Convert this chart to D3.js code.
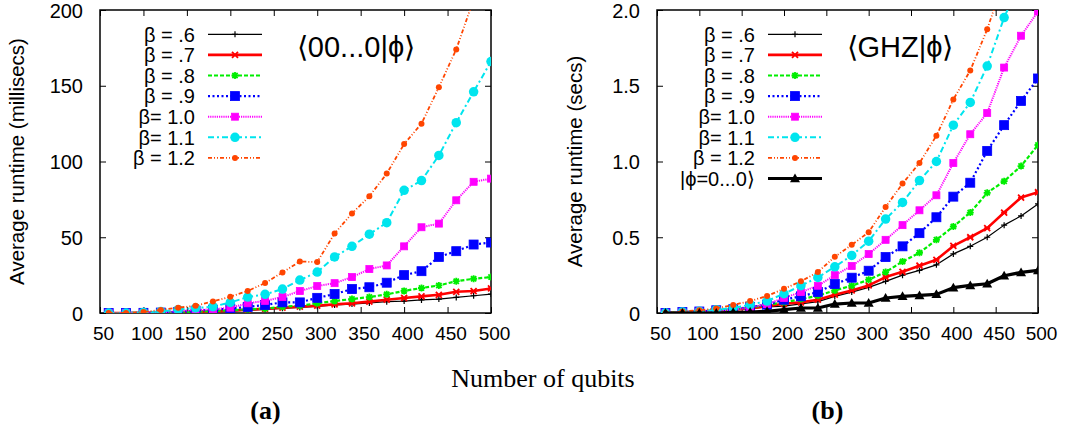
<!DOCTYPE html>
<html><head><meta charset="utf-8">
<script src="https://cdn.jsdelivr.net/npm/d3@7"></script>
<style>
html,body{margin:0;padding:0;background:#fff;}
svg{display:block;}
</style></head>
<body>
<svg id="chart" width="1076" height="433"></svg>
<script>
// ---------- data ----------
const qubits = [60,80,100,120,140,160,180,200,220,240,260,280,300,320,340,360,380,400,420,440,460,480,500];
const xTicks = [50,100,150,200,250,300,350,400,450,500];
const yTicksA = [0,50,100,150,200];
const yTickLabelsA = ["0","50","100","150","200"];
const yTicksB = [0,0.5,1.0,1.5,2.0];
const yTickLabelsB = ["0","0.5","1.0","1.5","2.0"];
const seriesNames = ["β = .6","β = .7","β = .8","β = .9","β= 1.0","β= 1.1","β = 1.2"];
const ghzName = "|ϕ=0...0⟩";

// (a) <00...0|phi>, milliseconds
const a_b06 = [0,0,0.1,0.2,0.4,0.7,0.9,1.3,1.8,2.4,3.1,3.7,4.4,5.3,5.9,6.6,7.5,7.9,8.6,9.2,10.3,11.4,12.5];
const a_b07 = [0,0,0.1,0.2,0.4,0.9,1.1,1.5,2.2,2.8,3.5,4.2,4.8,5.7,6.4,7.5,8.8,9.9,11,12,14,14.5,16.2];
const a_b08 = [0,0,0.1,0.3,0.5,0.9,1.3,1.8,2.4,2.9,4.2,4.8,6.4,7.9,9.2,10.5,12.3,14.6,16.5,18.2,21,22.6,23.7];
const a_b09 = [0,0,0.1,0.3,0.7,1.5,2.2,2.9,4,5.3,7,7,10,12.5,15.8,17,20,25,27.6,37,40.8,45.2,46.5];
const a_b10 = [0,0,0.1,0.4,1.3,2,2.4,3.5,6.4,8,10.5,14.5,17.8,19.7,23.7,29,31.4,44,56.6,59,74.4,86.6,88.7];
const a_b11 = [0,0,0.4,1,2.2,3.3,4.2,7,10.5,12.3,15.8,21.7,27,37,44,52,59.6,81,87.4,104,125.6,146,166];
const a_b12 = [0,0,0.6,2,3.5,4.8,7.6,10.8,14.5,19.8,26.8,34,33.6,52.5,65.7,77,92,111.5,125,149,174,207,240];

// (b) <GHZ|phi>, seconds
const b_b06 = [0,0.005,0.008,0.012,0.02,0.03,0.04,0.045,0.06,0.075,0.11,0.138,0.169,0.209,0.25,0.281,0.318,0.39,0.44,0.50,0.58,0.641,0.72];
const b_b07 = [0,0.005,0.01,0.015,0.022,0.03,0.044,0.061,0.07,0.088,0.121,0.149,0.182,0.237,0.272,0.312,0.351,0.443,0.50,0.56,0.663,0.762,0.797];
const b_b08 = [0,0.006,0.01,0.016,0.025,0.035,0.055,0.07,0.092,0.114,0.149,0.18,0.22,0.27,0.34,0.397,0.483,0.571,0.663,0.793,0.87,0.97,1.109];
const b_b09 = [0,0.006,0.01,0.018,0.025,0.04,0.055,0.088,0.11,0.138,0.191,0.233,0.279,0.369,0.44,0.527,0.632,0.768,0.86,1.07,1.24,1.40,1.548];
const b_b10 = [0,0.005,0.01,0.015,0.022,0.037,0.059,0.099,0.138,0.18,0.25,0.31,0.389,0.483,0.58,0.678,0.777,0.99,1.18,1.32,1.62,1.83,1.99];
const b_b11 = [0,0.007,0.011,0.022,0.033,0.055,0.079,0.127,0.18,0.235,0.305,0.38,0.474,0.62,0.73,0.874,1.0,1.24,1.39,1.63,1.95,2.2,2.45];
const b_b12 = [0,0.01,0.018,0.03,0.053,0.079,0.112,0.16,0.209,0.27,0.371,0.45,0.533,0.70,0.854,0.99,1.17,1.41,1.60,1.873,2.2,2.55,2.9];
const b_ghz0 = [0,0,0,0,0.005,0.006,0.011,0.022,0.033,0.033,0.059,0.066,0.066,0.099,0.11,0.116,0.123,0.167,0.182,0.193,0.246,0.268,0.281];

// ---------- styles ----------
const styles = [
  {color:"#000000", width:1.2, dash:null, marker:"plus", size:6},
  {color:"#ff0000", width:2.6, dash:null, marker:"cross", size:6},
  {color:"#00ee00", width:2.2, dash:"4,2", marker:"star", size:7},
  {color:"#0000ff", width:2.2, dash:"2,2.5", marker:"square", size:9},
  {color:"#ff00ff", width:2, dash:"1.2,1", marker:"square", size:7},
  {color:"#00e5ee", width:2, dash:"6,3,2,3", marker:"circle", size:9.5},
  {color:"#ff4500", width:1.8, dash:"4,2,1,2,1,2", marker:"circle", size:6}
];
const ghzStyle = {color:"#000000", width:3.2, dash:null, marker:"triangle", size:10};

const svg = d3.select("#chart");
const SANS = "'Liberation Sans', Arial, Helvetica, sans-serif";
const SERIF = "'Liberation Serif', 'Times New Roman', serif";

function drawMarker(g, type, x, y, s, color) {
  const h = s/2;
  if (type === "plus") {
    g.append("path").attr("d",`M${x-h},${y}H${x+h}M${x},${y-h}V${y+h}`).attr("stroke",color).attr("stroke-width",1.2).attr("fill","none");
  } else if (type === "cross") {
    g.append("path").attr("d",`M${x-h},${y-h}L${x+h},${y+h}M${x-h},${y+h}L${x+h},${y-h}M${x-h},${y}H${x+h}`).attr("stroke",color).attr("stroke-width",1.8).attr("fill","none");
  } else if (type === "star") {
    g.append("path").attr("d",`M${x-h},${y}H${x+h}M${x},${y-h}V${y+h}M${x-h*0.75},${y-h*0.75}L${x+h*0.75},${y+h*0.75}M${x-h*0.75},${y+h*0.75}L${x+h*0.75},${y-h*0.75}`).attr("stroke",color).attr("stroke-width",1.8).attr("fill","none");
  } else if (type === "square") {
    g.append("rect").attr("x",x-h).attr("y",y-h).attr("width",s).attr("height",s).attr("fill",color).attr("stroke",color).attr("stroke-width",0.8);
  } else if (type === "circle") {
    g.append("circle").attr("cx",x).attr("cy",y).attr("r",h).attr("fill",color);
  } else if (type === "triangle") {
    g.append("path").attr("d",`M${x},${y-h}L${x+h},${y+h*0.75}L${x-h},${y+h*0.75}Z`).attr("fill",color);
  }
}

function drawPanel(cfg) {
  const {left,right,top,bottom,yMax,yTicks,yTickLabels,series,id} = cfg;
  const x = d3.scaleLinear().domain([50,500]).range([left,right]);
  const y = d3.scaleLinear().domain([0,yMax]).range([bottom,top]);
  const g = svg.append("g");

  svg.append("clipPath").attr("id",id).append("rect")
    .attr("x",left).attr("y",top).attr("width",right-left).attr("height",bottom-top);

  // axes with inward ticks
  const axB = d3.axisBottom(x).tickValues(xTicks).tickSize(-6).tickPadding(14).tickFormat(d3.format("d"));
  const axT = d3.axisTop(x).tickValues(xTicks).tickSize(-6).tickFormat("");
  const axL = d3.axisLeft(y).tickValues(yTicks).tickSize(-6).tickPadding(17).tickFormat((d,i)=>yTickLabels[i]);
  const axR = d3.axisRight(y).tickValues(yTicks).tickSize(-6).tickFormat("");
  const gb = g.append("g").attr("transform",`translate(0,${bottom})`).call(axB);
  const gt = g.append("g").attr("transform",`translate(0,${top})`).call(axT);
  const gl = g.append("g").attr("transform",`translate(${left},0)`).call(axL);
  const gr = g.append("g").attr("transform",`translate(${right},0)`).call(axR);
  [gb,gt,gl,gr].forEach(a=>{ a.select(".domain").remove(); a.selectAll("line").attr("stroke","#000").attr("stroke-width",1); });
  gb.selectAll("text").attr("font-family",SANS).attr("font-size",19).attr("fill","#000").attr("dx",3);
  gl.selectAll("text").attr("font-family",SANS).attr("font-size",20).attr("fill","#000").attr("dy","0.36em");
  g.append("rect").attr("x",left).attr("y",top).attr("width",right-left).attr("height",bottom-top)
    .attr("fill","none").attr("stroke","#000").attr("stroke-width",1.5);

  // series
  const plot = svg.append("g").attr("clip-path",`url(#${id})`);
  const line = d3.line().x((d,i)=>x(qubits[i])).y(d=>y(d));
  series.forEach(s=>{
    const p = plot.append("path").datum(s.values).attr("d",line).attr("fill","none")
      .attr("stroke",s.style.color).attr("stroke-width",s.style.width).attr("stroke-linejoin","round");
    if (s.style.dash) p.attr("stroke-dasharray",s.style.dash);
    s.values.forEach((v,i)=>{ if (v <= yMax) drawMarker(plot, s.style.marker, x(qubits[i]), y(v), s.style.size, s.style.color); });
  });

  // legend
  const lg = svg.append("g");
  series.forEach((s,i)=>{
    const cy = cfg.legTop + i*cfg.legStep;
    lg.append("text").attr("x",cfg.legTextX).attr("y",cy).attr("dy","0.36em").attr("text-anchor","end")
      .attr("font-family",SANS).attr("font-size",20).attr("fill","#000").text(s.name);
    const l = lg.append("line").attr("x1",cfg.legLineX1).attr("x2",cfg.legLineX2).attr("y1",cy).attr("y2",cy)
      .attr("stroke",s.style.color).attr("stroke-width",s.style.width);
    if (s.style.dash) l.attr("stroke-dasharray",s.style.dash);
    drawMarker(lg, s.style.marker, (cfg.legLineX1+cfg.legLineX2)/2, cy, s.style.size, s.style.color);
  });

  // title inside plot
  svg.append("text").attr("x",cfg.titleX).attr("y",47).attr("dy","0.36em").attr("text-anchor","middle")
    .attr("font-family",SANS).attr("font-size",29).attr("fill","#000").text(cfg.title);

  // y label
  svg.append("text").attr("transform",`translate(${cfg.yLabelX},${(top+bottom)/2}) rotate(-90)`)
    .attr("text-anchor","middle").attr("dy","0.36em")
    .attr("font-family",SANS).attr("font-size",20.5).attr("fill","#000").text(cfg.yLabel);

  // panel caption
  svg.append("text").attr("x",(left+right)/2+(cfg.capShift||0)).attr("y",419).attr("text-anchor","middle")
    .attr("font-family",SERIF).attr("font-weight","bold").attr("font-size",26).attr("fill","#000").text(cfg.caption);
}

const seriesA = [a_b06,a_b07,a_b08,a_b09,a_b10,a_b11,a_b12].map((v,i)=>({name:seriesNames[i],values:v,style:styles[i]}));
const seriesB = [b_b06,b_b07,b_b08,b_b09,b_b10,b_b11,b_b12].map((v,i)=>({name:seriesNames[i],values:v,style:styles[i]}));
seriesB.push({name:ghzName,values:b_ghz0,style:ghzStyle});

drawPanel({id:"clipA",left:100,right:491,top:10,bottom:313,yMax:200,yTicks:yTicksA,yTickLabels:yTickLabelsA,
  series:seriesA,legTop:34.3,legStep:20.6,legTextX:195,legLineX1:208,legLineX2:262,
  title:"⟨00...0|ϕ⟩",titleX:356,yLabel:"Average runtime (millisecs)",yLabelX:17,caption:"(a)",capShift:-30});
drawPanel({id:"clipB",left:657,right:1038,top:10,bottom:313,yMax:2.0,yTicks:yTicksB,yTickLabels:yTickLabelsB,
  series:seriesB,legTop:34.3,legStep:20.6,legTextX:755,legLineX1:768,legLineX2:822,
  title:"⟨GHZ|ϕ⟩",titleX:900,yLabel:"Average runtime (secs)",yLabelX:575,caption:"(b)",capShift:-20});

svg.append("text").attr("x",543).attr("y",387).attr("text-anchor","middle")
  .attr("font-family",SERIF).attr("font-size",26).attr("fill","#000").text("Number of qubits");
</script>
</body></html>
